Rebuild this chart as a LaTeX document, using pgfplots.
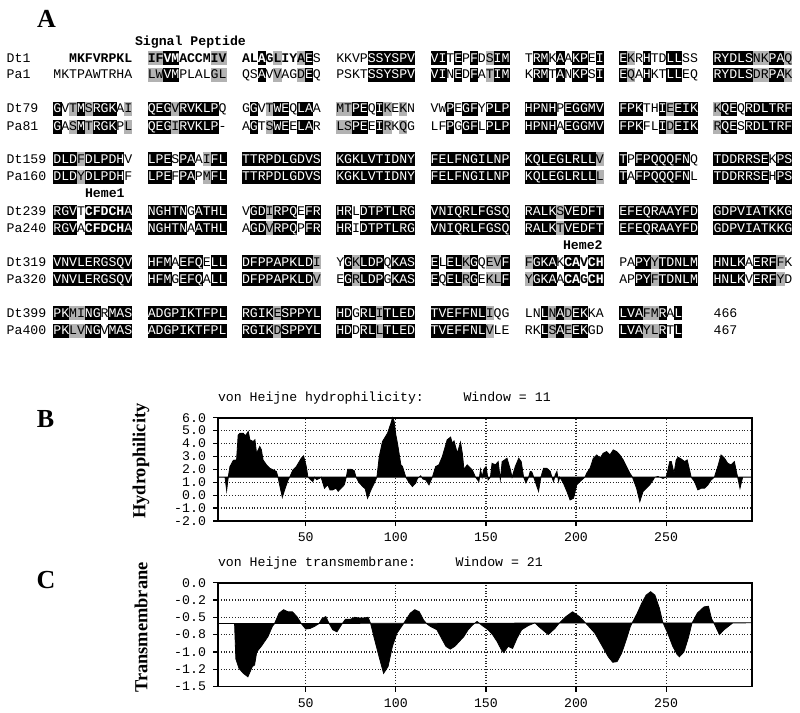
\documentclass[border=0pt]{standalone}
\usepackage{fontspec}
\setmainfont{Liberation Serif}
\newfontfamily\mono{Liberation Mono}
\usepackage{pgfplots}
\pgfplotsset{compat=1.18}

% sequence font and character cell (picture units = pixels of the reference)
\newcommand\sq{\mono\fontsize{6.6}{8}\selectfont}
\newcommand\cw{7.87}
\newcount\ci

% one residue: #1 letter, #2 shading code (o none, b black, g grey, B black+bold, G grey+bold, n bold)
\def\res#1#2{%
  \pgfmathsetmacro\xx{\curx+\ci*\cw}%
  \def\tc{black}\def\ft{}%
  \if#2b\def\tc{white}\fill[black] (\xx-0.15,\cury-7) rectangle (\xx+\cw+0.15,\cury+7);\fi
  \if#2B\def\tc{white}\def\ft{\bfseries}\fill[black] (\xx-0.15,\cury-7) rectangle (\xx+\cw+0.15,\cury+7);\fi
  \if#2g\fill[black!30] (\xx-0.15,\cury-7) rectangle (\xx+\cw+0.15,\cury+7);\fi
  \if#2G\def\ft{\bfseries}\fill[black!30] (\xx-0.15,\cury-7) rectangle (\xx+\cw+0.15,\cury+7);\fi
  \if#2n\def\ft{\bfseries}\fi
  \if#10\else\node[txt,text=\tc,font=\sq\ft] at (\xx+\cw/2,\cury+3.7) {#1};\fi}
\def\blkloop#1#2\relax#3#4\relax{%
  \res{#1}{#3}\advance\ci by 1
  \ifx\relax#2\relax\else\blkloop#2\relax#4\relax\fi}
\def\blk#1#2#3#4{\pgfmathsetmacro\curx{53.5+#1*94.3}\def\cury{#2}\ci=0 \blkloop#3\relax#4\relax}
\newcommand\rw[3]{%
  \node[txt,anchor=base west,font=\sq] at (6.7,#1+3.7) {#2};
  \foreach \s/\m [count=\k from 0] in {#3} {\edef\tmp{\noexpand\blk{\k}{#1}{\s}{\m}}\tmp}}

\pgfplotsset{hplot/.style={
  scale only axis, anchor=south west, width=266.85pt,
  xmin=1.3, xmax=297.5,
  axis line style={line width=0.9pt},
  tick align=outside, xtick pos=bottom, ytick pos=left,
  major tick length=2.5pt, tick style={black, line width=0.6pt},
  grid=major, major grid style={densely dotted, line width=0.6pt, black!85},
  xtick={50,100,150,200,250}, xticklabels={50,100,150,200,250},
  ticklabel style={font=\sq},
  clip=false}}

\begin{document}
\begin{tikzpicture}
\useasboundingbox (0,0) rectangle (400pt,-356.5pt);
\begin{scope}[x=0.5pt,y=-0.5pt,txt/.style={anchor=base,inner sep=0pt,outer sep=0pt}]
% panel letters
\node[font=\bfseries\fontsize{13}{13}\selectfont] at (46.5,18.5) {A};
\node[font=\bfseries\fontsize{13}{13}\selectfont] at (45.5,419) {B};
\node[font=\bfseries\fontsize{13}{13}\selectfont] at (46,580) {C};

% panel A: alignment
\node[txt,anchor=base west,font=\sq\bfseries] at (135,41.7+3.7) {Signal Peptide};
\node[txt,anchor=base west,font=\sq\bfseries] at (85,194+3.7) {Heme1};
\node[txt,anchor=base west,font=\sq\bfseries] at (563,245.7+3.7) {Heme2};

\rw{58.3}{Dt1}{00MKFVRPKL/oonnnnnnnn,
IFVMACCMIV/GGBBnnnnGG,
ALAGLIYAES/nnBnGnnGbo,
KKVPSSYSPV/oooobbbbbb,
VITEPFDSIM/bbobobogbb,
TRMKAAKPEI/obbobobbob,
EKRHTDLLSS/bgoboobboo,
RYDLSNKPAQ/bbbbbggbbg}
\rw{75}{Pa1}{MKTPAWTRHA/oooooooooo,
LWVMPLALGL/ggbboooogg,
QSAVVAGDEQ/oobogoogbo,
PSKTSSYSPV/oooobbbbbb,
VINEDFATIM/bbobobogbb,
KRMTANKPSI/obbobobbob,
EQAHKTLLEQ/bgoboobboo,
RYDLSDRPAK/bbbbbggbbg}

\rw{109}{Dt79}{GVTMSRGKAI/bogbgbbbog,
QEGVRVKLPQ/bbbgbbbbbo,
GGVTWEQLAA/obogbbobbo,
MTPEQIKEKN/ggbbobgogo,
VWPEGFYPLP/oobobbobbb,
HPNHPEGGMV/bbbbobbbbb,
FPKTHIEEIK/bbboobgbbb,
KQEQRDLTRF/gbbobbbbbb}
\rw{126.7}{Pa81}{GASMTRGKPL/bogbgbbbog,
QEGIRVKLP-/bbbgbbbbbo,
AGTSWEELAR/obogbbobbo,
LSPEEIRKQG/ggbbobgogo,
LFPGGFLPLP/oobobbobbb,
HPNHAEGGMV/bbbbobbbbb,
FPKFLIDEIK/bbboobgbbb,
RQESRDLTRF/gbbobbbbbb}

\rw{159.3}{Dt159}{DLDFDLPDHV/bbbgbbbbbo,
LPESPAAIFL/bbbobbogbb,
TTRPDLGDVS/bbbbbbbbbb,
KGKLVTIDNY/bbbbbbbbbb,
FELFNGILNP/bbbbbbbbbb,
KQLEGLRLLV/bbbbbbbbbg,
TPFPQQQFNQ/bobbbbbbbo,
TDDRRSEKPS/bbbbbbbobb}
\rw{176.7}{Pa160}{DLDYDLPDHF/bbbgbbbbbo,
LPEFPAPMFL/bbbobbogbb,
TTRPDLGDVS/bbbbbbbbbb,
KGKLVTIDNY/bbbbbbbbbb,
FELFNGILNP/bbbbbbbbbb,
KQLEGLRLLL/bbbbbbbbbg,
TAFPQQQFNL/bobbbbbbbo,
TDDRRSEHPS/bbbbbbbobb}

\rw{211.7}{Dt239}{RGVTCFDCHA/bbboBBBBBb,
NGHTNGATHL/bbbbbobbbb,
VGDIRPQEFR/obbgbbbobb,
HRLDTPTLRG/bbobbbbbbb,
VNIQRLFGSQ/bbbbbbbbbb,
RALKSVEDFT/bbbbgbbbbb,
EFEQRAAYFD/bbbbbbbbbb,
GDPVIATKKG/bbbbbbbbbb}
\rw{228.3}{Pa240}{RGVACFDCHA/bbboBBBBBb,
NGHTNAATHL/bbbbbobbbb,
AGDVRPQPFR/obbgbbbobb,
HRIDTPTLRG/bbobbbbbbb,
VNIQRLFGSQ/bbbbbbbbbb,
RALKTVEDFT/bbbbgbbbbb,
EFEQRAAYFD/bbbbbbbbbb,
GDPVIATKKG/bbbbbbbbbb}

\rw{262.3}{Dt319}{VNVLERGSQV/bbbbbbbbbb,
HFMAEFQELL/bbbobbbobb,
DFPPAPKLDI/bbbbbbbbbg,
YGKLDPQKAS/obgbbbobbb,
ELELKGQEVF/bobbgboggb,
FGKAKCAVCH/gbbboBBnBB,
PAPYYTDNLM/oobbgbbbbb,
HNLKAERFFK/bbbbobbbgo}
\rw{279.3}{Pa320}{VNVLERGSQV/bbbbbbbbbb,
HFMGEFQALL/bbbobbbobb,
DFPPAPKLDV/bbbbbbbbbg,
EGRLDPGKAS/obgbbbobbb,
EQELRGEKLF/bobbgboggb,
YGKAACAGCH/gbbboBBnBB,
APPYFTDNLM/oobbgbbbbb,
HNLKVERFYD/bbbbobbbgo}

\rw{313.3}{Dt399}{PKMINGRMAS/bbggbbobbb,
ADGPIKTFPL/bbbbbbbbbb,
RGIKESPPYL/bbbbgbbbbb,
HDGRLITLED/bbobbgbbbb,
TVEFFNLIQG/bbbbbbbgoo,
LNLNADEKKA/oobgbgbboo,
LVAFMRAL/bbbggbob}
\rw{330.7}{Pa400}{PKLVNGVMAS/bbggbbobbb,
ADGPIKTFPL/bbbbbbbbbb,
RGIKDSPPYL/bbbbgbbbbb,
HDDRLLTLED/bbobbgbbbb,
TVEFFNLVLE/bbbbbbbgoo,
RKLSAEEKGD/oobgbgbboo,
LVAYLRTL/bbbggbob}
\node[txt,anchor=base west,font=\sq] at (713.6,313.3+3.7) {466};
\node[txt,anchor=base west,font=\sq] at (713.6,330.7+3.7) {467};

% titles and y labels of panels B and C
\node[txt,anchor=base west,font=\sq] at (218,398+3.7) {von Heijne hydrophilicity:\ \ \ \ \ Window = 11};
\node[txt,anchor=base west,font=\sq] at (218,563+3.7) {von Heijne transmembrane:\ \ \ \ \ Window = 21};
\node[rotate=90,font=\bfseries\fontsize{9.2}{10}\selectfont] at (141,461) {Hydrophilicity};
\node[rotate=90,font=\bfseries\fontsize{9.2}{10}\selectfont] at (141,627.5) {Transmembrane};
\end{scope}

% panel B: hydrophilicity profile, filled about its baseline
\begin{axis}[hplot, at={(109pt,-260.5pt)}, height=51.65pt,
  ymin=-2, ymax=6, ytick={-2,-1,0,1,2,3,4,5,6},
  yticklabels={-2.0,-1.0,0.0,1.0,2.0,3.0,4.0,5.0,6.0}]
\addplot[fill=black, draw=black, line width=0.4pt] coordinates {
(1.3,1.4)(5.2,1.4)(6.1,0.36)(7,1.4)(7.9,2.2)(9.8,2.7)(11.6,2.73)(12.5,4.67)(13.5,4.8)(15.3,4.8)
(16.5,4.6)(18.1,4.93)(19.0,4.29)(20.8,4.16)(21.8,4.29)(22.7,3.25)(24.5,3.77)(25.4,3.51)(26.3,2.73)
(28.2,2.35)(30.0,2.09)(31.9,1.96)(33.7,1.84)(34.6,1.4)(35.5,0.8)(37.0,-0.16)(38.5,0.5)(40.2,1.18)
(41.1,1.4)(42.9,1.96)(44.8,2.22)(47.5,2.86)(48.8,3.04)(50.3,2.22)(51.2,1.4)(53.9,1.05)(55,1.4)
(56,1.2)(57.6,1.3)(58.5,1.4)(60.4,0.54)(62.2,0.8)(63.5,0.4)(65.0,0.41)(66.8,0.54)(68,0.3)(69.6,0.54)
(71.4,0.8)(72.5,1.4)(73.3,2.0)(75.1,2.01)(76.9,1.9)(77.9,1.4)(79.5,1.0)(81.6,0.67)(83,0.5)(84.3,-0.24)
(86.2,0.41)(88.0,0.93)(89.5,1.4)(90.8,2.99)(92.6,4.16)(95.4,4.8)(97.3,5.58)(98.2,6.0)(99.1,5.69)
(100.0,4.67)(100.9,4.03)(102.8,2.35)(103.7,2.22)(105.5,1.4)(107.3,1.0)(109.2,0.67)(111.0,0.93)
(112,1.3)(113.8,1.5)(115,1.25)(116.6,1.18)(118.4,0.8)(120.3,1.4)(122.1,2.22)(123.9,2.35)(125.8,2.99)
(128.5,4.29)(130.4,4.5)(131.3,4.03)(132.3,4.2)(134.1,3.25)(135.9,4.1)(136.9,3.25)(137.8,2.0)
(139.6,2.35)(140.5,2.22)(142.4,1.96)(144.2,1.4)(146.1,1.05)(147.0,2.0)(147.9,1.4)(148.8,2.0)
(150.1,2.22)(151.2,1.18)(152.5,1.4)(153.4,2.47)(155.3,2.35)(156.8,2.6)(158.0,1.2)(159.0,2.6)
(161.7,2.86)(163.6,1.96)(164.5,1.4)(166.3,2.22)(168.2,2.86)(169.6,2.6)(170.9,1.4)(172.2,0.95)
(173.7,1.4)(174.6,1.84)(175.5,1.8)(176.5,1.4)(179.2,0.3)(180.5,1.4)(182.0,2.09)(183.8,2.09)
(185.7,1.84)(186.6,1.4)(187.5,1.05)(188.5,1.6)(189.4,1.84)(190.3,1.05)(191,1.4)(193.0,0.93)
(194.9,0.3)(196.7,-0.37)(198.6,-0.24)(200.4,0.8)(202.2,1.05)(204.1,1.3)(205.0,1.4)(205.9,1.7)
(207.8,2.09)(209.6,2.86)(211.5,3.12)(213.3,2.86)(215.1,3.25)(217.0,3.38)(218.8,3.12)(220.7,3.51)
(222.5,3.38)(224.3,3.12)(226.2,2.73)(228.0,2.22)(229.9,1.7)(231.3,1.4)(233.6,0.54)(235.4,-0.5)
(237.2,0.28)(239.1,0.54)(240.9,0.8)(242.8,1.18)(243.7,1.4)(245.5,1.45)(248.3,1.3)(250,1.4)
(251.0,1.96)(252.0,2.6)(252.9,2.6)(254.4,1.7)(255.6,2.73)(256.6,2.94)(258.4,2.8)(260.3,2.6)
(261.7,2.73)(263.0,1.96)(263.9,1.4)(265.8,1.05)(267.6,0.41)(269.5,0.54)(271.3,0.54)(273.2,0.8)
(275.0,1.18)(276.8,1.4)(278.7,2.22)(280.5,3.12)(282.4,2.86)(284.2,2.47)(286.0,2.35)(287.9,2.6)
(288.8,1.96)(289.7,1.4)(291.0,0.54)(292.5,1.4)(297.5,1.4)
} -- cycle;
\end{axis}

% panel C: transmembrane profile
\begin{axis}[hplot, at={(109pt,-343.25pt)}, height=51.9pt,
  ymin=-1.5, ymax=0, ytick={-1.5,-1.25,-1,-0.75,-0.5,-0.25,0},
  yticklabels={-1.5,-1.2,-1.0,-0.8,-0.5,-0.2,0.0}]
\addplot[fill=black, draw=black, line width=0.4pt] coordinates {
(1.3,-0.59)(10.5,-0.59)(11.2,-1.1)(13.0,-1.24)(15.4,-1.31)(17.9,-1.36)(20.4,-1.21)(21.6,-1.19)
(22.8,-1.0)(25.3,-0.92)(29.0,-0.78)(31.5,-0.63)(32.7,-0.59)(35.2,-0.44)(37.7,-0.39)(40.1,-0.42)
(42.6,-0.42)(45.1,-0.49)(47.5,-0.59)(50,-0.67)(52.5,-0.66)(54.9,-0.63)(57.4,-0.59)(59,-0.52)
(61.1,-0.49)(63,-0.59)(65,-0.68)(67.3,-0.71)(70,-0.6)(72,-0.53)(74.7,-0.53)(77.2,-0.5)(79.5,-0.51)
(82.1,-0.51)(84.6,-0.5)(86,-0.59)(88.3,-0.83)(90.7,-1.07)(93.2,-1.31)(95.7,-1.21)(98.1,-0.92)
(100.6,-0.73)(104.3,-0.59)(108,-0.44)(110.5,-0.39)(113,-0.42)(115.4,-0.54)(117,-0.59)(119.1,-0.63)
(122.8,-0.68)(125.3,-0.8)(127.8,-0.92)(130.2,-0.96)(132.7,-0.92)(135.2,-0.85)(137.7,-0.78)
(140.1,-0.68)(142.6,-0.61)(145.1,-0.56)(147.5,-0.61)(151.2,-0.68)(153.7,-0.75)(156.2,-0.85)
(158.6,-0.97)(159.9,-1.01)(162.3,-0.92)(164.8,-0.95)(167.3,-0.8)(169.8,-0.68)(173.5,-0.62)
(177.2,-0.58)(179.6,-0.64)(184.6,-0.75)(188.3,-0.66)(190.5,-0.59)(194.4,-0.49)(198.1,-0.42)
(201.9,-0.49)(205.6,-0.59)(210.5,-0.73)(214.2,-0.9)(217.9,-1.07)(220.4,-1.15)(222.8,-1.14)
(225.3,-1.02)(227.8,-0.83)(230.2,-0.63)(231,-0.59)(234,-0.44)(236.4,-0.3)(238.9,-0.18)(241.4,-0.13)
(243.8,-0.18)(246.3,-0.37)(248,-0.56)(248.5,-0.59)(251.2,-0.75)(253.7,-0.92)(256.2,-1.04)
(257.4,-1.07)(259.9,-1.0)(262.3,-0.8)(264.3,-0.59)(267.3,-0.44)(271,-0.35)(273.5,-0.34)
(275.2,-0.52)(276.7,-0.59)(279.6,-0.75)(282.1,-0.68)(284.6,-0.63)(287,-0.58)(297.5,-0.58)
} -- cycle;
\end{axis}
\end{tikzpicture}
\end{document}
